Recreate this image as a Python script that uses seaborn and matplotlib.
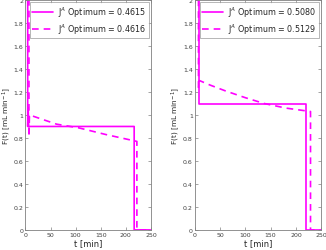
import matplotlib
matplotlib.use("Agg")
import matplotlib.pyplot as plt
import seaborn as sns

# left panel data
t_left_solid = [0, 4.5, 4.5, 5.5, 6.5, 216.6, 216.6, 250]
f_left_solid = [2, 2, 0.9, 1.06, 0.9, 0.9, 0, 0]
t_left_dash = [5, 7, 7, 8, 35, 62, 107, 160, 222, 222, 250]
f_left_dash = [2, 2, 0.81, 1.0, 0.96, 0.92, 0.887, 0.83, 0.77, 0, 0]
labels_left = ["J$^{A}$ Optimum = 0.4615", "J$^{A}$ Optimum = 0.4616"]

# right panel data
t_right_solid = [0, 8.3, 8.3, 221, 221, 250]
f_right_solid = [2, 2, 1.095, 1.095, 0, 0]
t_right_dash = [6, 7, 7, 8.5, 30, 60, 100, 137, 180, 229, 229, 250]
f_right_dash = [2, 2, 1.24, 1.30, 1.26, 1.21, 1.15, 1.10, 1.06, 1.03, 0, 0]
labels_right = ["J$^{A}$ Optimum = 0.5080", "J$^{A}$ Optimum = 0.5129"]

xticks = [0, 50, 100, 150, 200, 250]
yticks = [0, 0.2, 0.4, 0.6, 0.8, 1, 1.2, 1.4, 1.6, 1.8, 2]

sns.set_style("ticks")
plt.rcParams['font.family'] = ['DejaVu Sans']

fig = plt.figure(figsize=(3.26, 2.51), dpi=100)
ax1 = fig.add_axes([0.078, 0.080, 0.385, 0.916])
ax2 = fig.add_axes([0.598, 0.080, 0.387, 0.916])

magenta = "#ff00ff"
axis_grey = "#808080"
panels = [
    (ax1, t_left_solid, f_left_solid, t_left_dash, f_left_dash, labels_left),
    (ax2, t_right_solid, f_right_solid, t_right_dash, f_right_dash, labels_right),
]
for ax, ts, fs, td, fd, labs in panels:
    sns.lineplot(x=ts, y=fs, sort=False, estimator=None, ax=ax,
                 color=magenta, lw=1.2, label=labs[0])
    sns.lineplot(x=td, y=fd, sort=False, estimator=None, ax=ax,
                 color=magenta, lw=1.2, ls=(0, (4, 3)), label=labs[1])
    ax.set_xlim(0, 250)
    ax.set_ylim(0, 2)
    ax.set_xticks(xticks)
    ax.set_yticks(yticks)
    ax.set_yticklabels([f"{v:g}" for v in yticks])
    ax.tick_params(direction="in", top=True, right=True, length=2.5,
                   width=0.5, labelsize=4.5, color=axis_grey,
                   labelcolor="#404040", pad=1.5)
    for sp in ax.spines.values():
        sp.set_visible(True)
        sp.set_color(axis_grey)
        sp.set_linewidth(0.6)
    ax.set_xlabel("t [min]", fontsize=6, labelpad=1, color="#262626")
    ax.set_ylabel("F(t) [mL min$^{-1}$]", fontsize=5.3, color="#262626")
    ax.yaxis.set_label_coords(-0.1, 0.5)
    leg = ax.legend(loc="upper right", fontsize=5.8, frameon=True,
                    fancybox=False, edgecolor=axis_grey, handlelength=2.6,
                    borderpad=0.3, labelspacing=0.3, handletextpad=0.6,
                    borderaxespad=0.3)
    leg.get_frame().set_linewidth(0.5)

fig.savefig("out.png", dpi=100)
